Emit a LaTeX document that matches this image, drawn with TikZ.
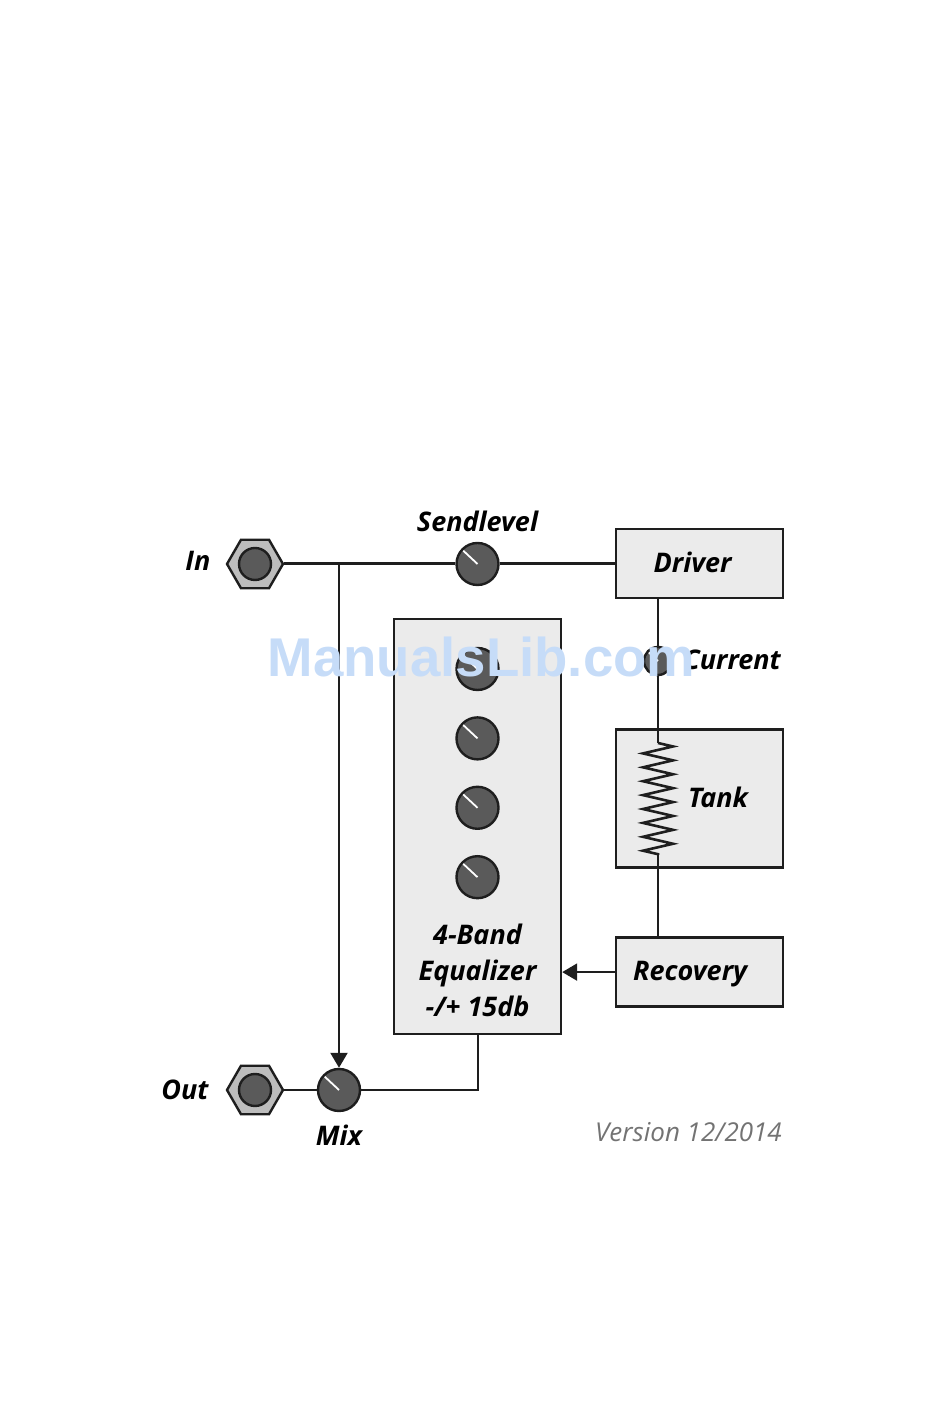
\documentclass[tikz,border=0pt]{standalone}
\usepackage{fontspec}
\setmainfont{Open Sans}
\newfontfamily\markfont{Liberation Sans}
\usetikzlibrary{shapes.geometric, decorations.pathmorphing, positioning, arrows.meta}
\definecolor{boxgray}{HTML}{EBEBEB}
\definecolor{knobgray}{HTML}{5A5A5A}
\definecolor{jackgray}{HTML}{BDBDBD}
\definecolor{linegray}{HTML}{1E1E1E}
\definecolor{markblue}{HTML}{C6DCF8}

\begin{document}
\begin{tikzpicture}[
		x=1pt, y=1pt,
		node distance=20pt and 20pt,
		box/.style={draw=linegray, rectangle, line width=2.2pt, fill=boxgray, minimum width=167pt, minimum height=69pt, inner sep=0pt},
		knob/.style={draw=linegray, circle, line width=2.4pt, fill=knobgray, minimum size=42pt, inner sep=0pt,
			path picture={\draw[white, line width=1.8pt] (path picture bounding box.center) -- +(-15pt,14pt);}},
		smallknob/.style={knob, minimum size=28pt},
		jack/.style={draw=linegray, regular polygon, regular polygon sides=6, line width=2.4pt, fill=jackgray, minimum size=56pt, inner sep=0pt,
			path picture={\draw[linegray, fill=knobgray, line width=2.4pt] (path picture bounding box.center) circle (16pt);}},
		lbl/.style={inner sep=0pt, font=\fontsize{27}{36}\selectfont\bfseries\itshape, align=center, text=black},
		wire/.style={draw=linegray, line width=3pt},
		thinwire/.style={draw=linegray, line width=2.2pt},
		arrow/.style={thinwire, -{Triangle[length=15pt, width=17pt]}}
		]
		\useasboundingbox (0,0) rectangle (950,1420);
		
		% Boxes
		\node[box] (driver) at (699.5,856.5) {};
		\node[box, minimum height=138pt, below=165pt of driver.center, anchor=north] (tank) {};
		\node[box, below=67.8pt of tank] (recovery) {};
		\node[box, minimum height=415pt, anchor=north west] (eq) at (393,802) {};
		
		% Knobs and jacks
		\node[jack] (in) at (255,856) {};
		\node[jack] (out) at (255,330) {};
		\node[knob] (send) at (477.5,856) {};
		\node[knob] (eqa) at (477.5,751) {};
		\node[knob, below=25pt of eqa] (eqb) {};
		\node[knob, below=25pt of eqb] (eqc) {};
		\node[knob, below=25pt of eqc] (eqd) {};
		\node[knob] (mix) at (339,330) {};
		\node[smallknob] (current) at (658,759) {};
		\coordinate (split) at (339,856);
		\coordinate (zigtop) at (658,677);
		\coordinate (zigbot) at (658,565);
		
		% Connectors
		\draw[wire] (in) -- (send);
		\draw[wire] (send) -- (send -| driver.west);
		\draw[arrow] (split) -- (mix.north);
		\draw[thinwire] (out) -- (mix);
		\draw[thinwire] (mix) -| (eq.south);
		\draw[arrow] (recovery.west) -- (eq.east |- recovery.west);
		\draw[thinwire] (driver.south -| current) -- (current);
		\draw[thinwire] (current) -- (zigtop);
		\draw[thinwire, line width=2.6pt, line join=miter, decorate, decoration={zigzag, segment length=13.9pt, amplitude=15pt}] (zigtop) -- (zigbot);
		\draw[thinwire] (zigbot) -- (recovery.north -| zigbot);
		
		% Labels
		\node[lbl, left=15pt of in, yshift=3pt] (inlabel) {In};
		\node[lbl, left=17pt of out] (outlabel) {Out};
		\node[lbl, above=10pt of send] (sendlabel) {Sendlevel};
		\node[lbl, below=13pt of mix] (mixlabel) {Mix};
		\node[lbl, right=38.5pt of driver.west, yshift=1pt] (driverlabel) {Driver};
		\node[lbl, right=73pt of tank.west, yshift=1pt] (tanklabel) {Tank};
		\node[lbl, right=18pt of recovery.west, yshift=-2pt] (recoverylabel) {Recovery};
		\node[lbl, anchor=east] (currentlabel) at (781,760) {Current};
		\node[lbl] (eqlabel) at (477.5,450) {4-Band\\Equalizer\\-/+ 15db};
		\node[inner sep=0pt, anchor=east, text=black!55, font=\fontsize{26}{30}\selectfont\itshape] (version) at (782,288) {Version 12/2014};
		
		% Watermark
		\node[inner sep=0pt, text=markblue, font=\markfont\fontsize{54.6}{60}\selectfont\bfseries] (watermark) at (481.5,763) {ManualsLib.com};
		
	\end{tikzpicture}
\end{document}
